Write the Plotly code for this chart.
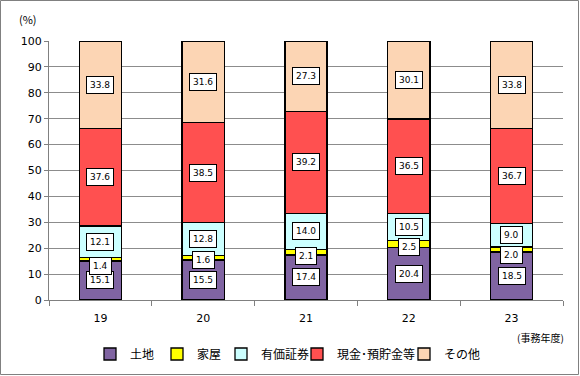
import plotly.graph_objects as go

years = ["19", "20", "21", "22", "23"]
land = [15.1, 15.5, 17.4, 20.4, 18.5]
house = [1.4, 1.6, 2.1, 2.5, 2.0]
securities = [12.1, 12.8, 14.0, 10.5, 9.0]
cash = [37.6, 38.5, 39.2, 36.5, 36.7]
other = [33.8, 31.6, 27.3, 30.1, 33.8]
names = ["土地", "家屋", "有価証券", "現金･預貯金等", "その他"]
colors = ["#8064A2", "#FFFF00", "#CCFFFF", "#FF5050", "#FCD5B4"]
series = [land, house, securities, cash, other]
y_ticks = list(range(0, 101, 10))

FONT = "Noto Sans CJK JP"
L, R, T, B = 49, 17, 41, 76
W, H = 580, 376
pw, ph = W - L - R, H - T - B

legend_ids = ["legend", "legend2", "legend3", "legend4", "legend5"]
legend_left_px = [90, 157, 221, 297, 404]

fig = go.Figure()
for nm, vals, col, lg in zip(names, series, colors, legend_ids):
    fig.add_trace(go.Bar(
        x=years, y=vals, name=nm, legend=lg,
        marker=dict(color=col, line=dict(color="black", width=1.3)),
    ))

# pixel offsets for the labels of the thin 家屋 segment
house_shift = [-7, -2, -4, -3, -5]
annotations = []
for si, vals in enumerate(series):
    for i, yr in enumerate(years):
        base = sum(series[k][i] for k in range(si))
        annotations.append(dict(
            x=i, y=base + vals[i] / 2, xref="x", yref="y",
            text=f"{vals[i]:.1f}", showarrow=False,
            font=dict(family="DejaVu Sans", size=9, color="black"),
            bgcolor="white", bordercolor="black", borderwidth=1, borderpad=3,
            yshift=house_shift[i] if si == 1 else 0,
        ))

annotations.append(dict(x=(28 - L) / pw, y=(H - B - 19) / ph, xref="paper", yref="paper",
                        xanchor="center", yanchor="middle",
                        text="(%)", showarrow=False,
                        font=dict(family=FONT, size=11, color="black")))
annotations.append(dict(x=(540 - L) / pw, y=(H - B - 337) / ph, xref="paper", yref="paper",
                        xanchor="center", yanchor="middle",
                        text="(事務年度)", showarrow=False,
                        font=dict(family=FONT, size=10, color="black")))

layout_legends = {}
for lg, lx in zip(legend_ids, legend_left_px):
    layout_legends[lg] = dict(
        orientation="h", x=(lx - L) / pw, y=(H - B - 354) / ph,
        xanchor="left", yanchor="middle", bgcolor="rgba(0,0,0,0)",
        font=dict(family=FONT, size=12, color="black"), itemwidth=30,
    )

fig.update_layout(
    width=W, height=H,
    margin=dict(l=L, r=R, t=T, b=B, autoexpand=False),
    barmode="stack", bargap=0.59,
    plot_bgcolor="white", paper_bgcolor="white",
    font=dict(family=FONT, size=11, color="black"),
    showlegend=True,
    xaxis=dict(type="category", range=[-0.5, 4.5], showgrid=False, showline=True,
               linecolor="#808080", ticks="outside", tickson="boundaries", ticklen=5,
               tickcolor="#808080", tickangle=0, ticklabelstandoff=8,
               tickfont=dict(family="DejaVu Sans", size=11), fixedrange=True),
    yaxis=dict(range=[0, 100], tickvals=y_ticks, showgrid=True, gridcolor="#8C8C8C",
               showline=True, linecolor="#808080", ticks="outside", ticklen=4,
               tickcolor="#808080", tickfont=dict(family="DejaVu Sans", size=11),
               zeroline=False),
    annotations=annotations,
    shapes=[dict(type="rect", xref="paper", yref="paper",
                 x0=-(L - 0.5) / pw, x1=1 + (R - 1.5) / pw,
                 y0=-(B - 1.5) / ph, y1=1 + (T - 0.5) / ph,
                 line=dict(color="#808080", width=1))],
    **layout_legends,
)
fig.write_html("out.html", config={"displayModeBar": False},
               post_script="document.body.style.margin='0';")
